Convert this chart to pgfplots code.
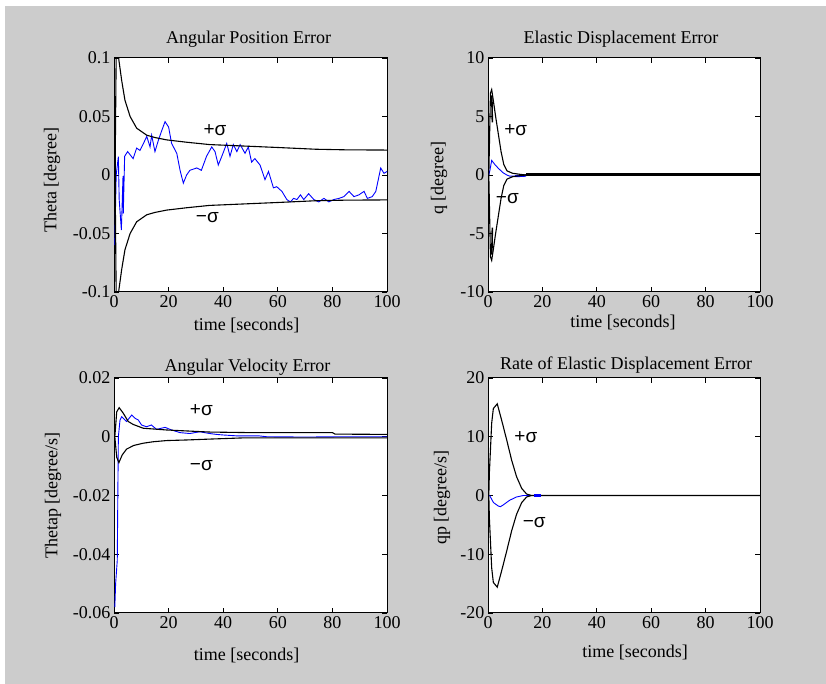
\documentclass[border=0pt]{standalone}
\usepackage{fontspec}
\setmainfont{Liberation Serif}
\newfontfamily\sigfont{Liberation Sans}
\usepackage{pgfplots}
\pgfplotsset{compat=1.18}
\definecolor{bggray}{RGB}{204,204,204}
\definecolor{mblue}{RGB}{0,0,255}

\pgfplotsset{
  matl/.style={
    scale only axis,
    anchor=south west,
    xmin=0, xmax=100,
    xtick={0,20,40,60,80,100},
    xticklabels={0,20,40,60,80,100},
    scaled y ticks=false,
    tick align=inside, tick pos=both,
    major tick length=5pt,
    axis line style={line width=1pt},
    every tick/.style={black, line width=0.8pt},
    axis background/.style={fill=white},
    tick label style={font=\fontsize{18}{20}\selectfont},
    label style={font=\fontsize{18}{20}\selectfont},
    every axis title shift=0pt,
    title style={font=\fontsize{18}{20}\selectfont, at={(axis description cs:0.5,1)}, anchor=center},
    xlabel style={at={(axis description cs:0.5,0)}, anchor=center},
    ylabel style={at={(axis description cs:0,0.5)}, anchor=center},
  },
  sig/.style={black, line width=1.1pt},
  err/.style={mblue, line width=0.9pt},
}
\tikzset{sl/.style={font=\sigfont\fontsize{19}{20}\selectfont}}

\begin{document}
\begin{tikzpicture}
\useasboundingbox (0,0) rectangle (826pt,684pt);
\fill[white] (0,0) rectangle (826pt,684pt);
\fill[bggray] (5pt,0) rectangle (826pt,678pt);

% top left: angular position
\begin{axis}[matl, at={(114pt,392pt)}, width=273pt, height=234pt,
  ymin=-0.1, ymax=0.1, ytick={-0.1,-0.05,0,0.05,0.1},
  yticklabels={-0.1,-0.05,0,0.05,0.1},
  title={Angular Position Error}, title style={yshift=19pt, xshift=-2pt},
  xlabel={time [seconds]}, xlabel style={yshift=-33pt, xshift=-4pt},
  ylabel={Theta [degree]}, ylabel style={yshift=62pt, xshift=-5pt}]
\addplot[err] coordinates {(0.3,-0.06) (0.5,-0.035) (0.8,0.0) (1.6,0.0157) (1.9,-0.021) (2.7,-0.047) (3.3,-0.001) (3.4,-0.033) (3.9,0.016) (5,0.020) (7,0.014) (8.3,0.023) (9.5,0.021) (10.8,0.027) (12,0.033) (13.2,0.024) (13.8,0.034) (15,0.020) (16.3,0.030) (17.5,0.038) (18.7,0.0456) (20,0.041) (21.1,0.027) (23,0.0185) (24.2,0.004) (25.4,-0.007) (26.6,0) (27.8,0.004) (30.3,0.006) (32,0.004) (33.9,0.016) (35.8,0.024) (37,0.020) (38.2,0.0085) (39.5,0.016) (41.3,0.027) (42.5,0.016) (43.7,0.026) (45,0.02) (46.2,0.026) (48,0.0185) (49.2,0.024) (50.4,0.011) (51.6,0.014) (53.5,0.0085) (55.3,-0.004) (56.6,0.003) (58.4,-0.011) (59.6,-0.010) (61.5,-0.014) (63.3,-0.021) (64.6,-0.023) (65.8,-0.020) (67,-0.021) (68.3,-0.017) (69.5,-0.021) (71.3,-0.016) (73.2,-0.021) (75,-0.023) (76.9,-0.020) (78.7,-0.023) (80.5,-0.021) (82.4,-0.020) (84.2,-0.0185) (86.1,-0.014) (87.9,-0.0185) (89.7,-0.017) (91.6,-0.014) (92.8,-0.020) (94.6,-0.0185) (95.9,-0.014) (97.7,0.006) (98.9,0.0014) (100,0.003)};
\addplot[sig] coordinates {(0.4,0) (0.9,0.13) (1.5,0.105) (1.8,0.098) (2.8,0.081) (4,0.064) (5.9,0.05) (8.3,0.040) (12,0.034) (15,0.032) (19.3,0.030) (26.6,0.028) (35,0.026) (45,0.025) (60,0.0235) (74,0.022) (85,0.0215) (100,0.0213)};
\addplot[sig] coordinates {(0.4,0) (0.9,-0.13) (1.5,-0.105) (1.8,-0.098) (2.8,-0.081) (4,-0.064) (5.9,-0.05) (8.3,-0.040) (12,-0.034) (15,-0.032) (19.3,-0.030) (26.6,-0.028) (35,-0.026) (45,-0.025) (60,-0.0235) (74,-0.022) (85,-0.0215) (100,-0.0213)};
\addplot[black, line width=2pt] coordinates {(0.3,0.027) (0.3,-0.024)};
\node[sl] at (axis cs:37,0.0385) {+σ};
\node[sl] at (axis cs:34.2,-0.0362) {−σ};
\end{axis}

% top right: elastic displacement
\begin{axis}[matl, at={(488pt,392pt)}, width=272pt, height=234pt,
  ymin=-10, ymax=10, ytick={-10,-5,0,5,10},
  yticklabels={-10,-5,0,5,10},
  title={Elastic Displacement Error}, title style={yshift=19pt, xshift=-3pt},
  xlabel={time [seconds]}, xlabel style={yshift=-30pt, xshift=-1pt},
  ylabel={q [degree]}, ylabel style={yshift=49pt, xshift=-3pt}]
\addplot[err] coordinates {(0.3,0) (0.7,0.4) (1.35,1.25) (2.5,0.9) (3.8,0.57) (5.5,0.2) (6.9,0) (8,-0.1) (10,-0.1)};
\addplot[mblue, line width=2.2pt] coordinates {(10,-0.1) (14,-0.05)};
\addplot[sig] coordinates {(0.3,0) (0.9,7.0) (1.35,7.3) (2,6.3) (2.8,5.0) (3.8,3.5) (4.8,2.0) (5.8,0.9) (7,0.35) (9,0.15) (12,0.05) (14,0)};
\addplot[sig] coordinates {(0.3,0) (0.9,-7.0) (1.35,-7.3) (2,-6.3) (2.8,-5.0) (3.8,-3.5) (4.8,-2.0) (5.8,-0.9) (7,-0.35) (9,-0.15) (12,-0.05) (14,0)};
\addplot[black, line width=3pt] coordinates {(14,0) (100,0)};
\addplot[black, line width=1.6pt] coordinates {(1.4,6.8) (1.6,4.5)};
\addplot[black, line width=1.6pt] coordinates {(1.4,-6.8) (1.6,-4.5)};
\node[sl] at (axis cs:10.2,3.85) {+σ};
\node[sl] at (axis cs:7.1,-2.0) {−σ};
\end{axis}

% bottom left: angular velocity
\begin{axis}[matl, at={(114pt,71pt)}, width=273pt, height=235pt,
  ymin=-0.06, ymax=0.02, ytick={-0.06,-0.04,-0.02,0,0.02},
  yticklabels={-0.06,-0.04,-0.02,0,0.02},
  title={Angular Velocity Error}, title style={yshift=11pt, xshift=-3pt},
  xlabel={time [seconds]}, xlabel style={yshift=-42pt, xshift=-4pt},
  ylabel={Thetap [degree/s]}, ylabel style={yshift=61pt}]
\addplot[err] coordinates {(0.3,-0.058) (0.6,-0.05) (1.2,-0.042) (1.4,-0.02) (1.6,0) (2.2,0.0057) (2.8,0.0068) (4.6,0.0052) (6.5,0.0074) (7.7,0.0063) (8.9,0.0057) (10.1,0.004) (11.9,0.0034) (13.7,0.004) (15.6,0.0025) (18.7,0.0032) (21.1,0.0023) (24.2,0.0014) (27.8,0.0011) (31.4,0.0017) (35,0.0011) (37.5,0.0008) (40,0.0006) (45,0.0003) (53,0.0003) (56,0) (70,-0.0001) (83,0) (100,0)};
\addplot[sig] coordinates {(0.3,0) (1.0,0.0085) (1.9,0.0099) (3.4,0.008) (5.2,0.0052) (7,0.0042) (10.7,0.0029) (19.3,0.0023) (35,0.0016) (50,0.0014) (80,0.0014) (81,0.0009) (100,0.0008)};
\addplot[sig] coordinates {(0.3,0) (1.0,-0.007) (1.8,-0.0088) (3,-0.0062) (4.6,-0.0042) (5.9,-0.0036) (7.1,-0.003) (10.7,-0.0022) (14.4,-0.0017) (19.3,-0.0013) (26.6,-0.0011) (35,-0.0008) (47,-0.0004) (100,-0.0004)};
\node[sl] at (axis cs:32,0.0091) {+σ};
\node[sl] at (axis cs:32,-0.00996) {−σ};
\end{axis}

% bottom right: rate of elastic displacement
\begin{axis}[matl, at={(488pt,71pt)}, width=272pt, height=235pt,
  ymin=-20, ymax=20, ytick={-20,-10,0,10,20},
  yticklabels={-20,-10,0,10,20},
  title={Rate of Elastic Displacement Error}, title style={yshift=13pt, xshift=2pt},
  xlabel={time [seconds]}, xlabel style={yshift=-39pt, xshift=11pt},
  ylabel={qp [degree/s]}, ylabel style={yshift=46pt, xshift=-2pt}]
\addplot[err] coordinates {(0.3,0) (0.6,0) (2,-1.2) (3.8,-1.8) (4.6,-1.9) (5.6,-1.6) (8,-0.8) (10.5,-0.25) (13,0) (17,0)};
\addplot[sig] coordinates {(0.3,0) (0.5,3.8) (1.35,12.3) (1.96,14.8) (3.4,15.6) (5.0,12.85) (6.9,9.4) (8.7,6.0) (10.5,3.2) (12.4,1.2) (14.2,0.25) (16,0) (100,0)};
\addplot[sig] coordinates {(0.3,0) (0.5,-3.8) (1.35,-12.3) (1.96,-14.8) (3.4,-15.6) (5.0,-12.85) (6.9,-9.4) (8.7,-6.0) (10.5,-3.2) (12.4,-1.2) (14.2,-0.25) (16,0)};
\addplot[mblue, line width=3pt] coordinates {(17,0) (19.5,0)};
\addplot[black, line width=1.6pt] coordinates {(0.2,3.5) (0.2,-3)};
\node[sl] at (axis cs:13.9,10.0) {+σ};
\node[sl] at (axis cs:17,-4.6) {−σ};
\end{axis}
\end{tikzpicture}
\end{document}
